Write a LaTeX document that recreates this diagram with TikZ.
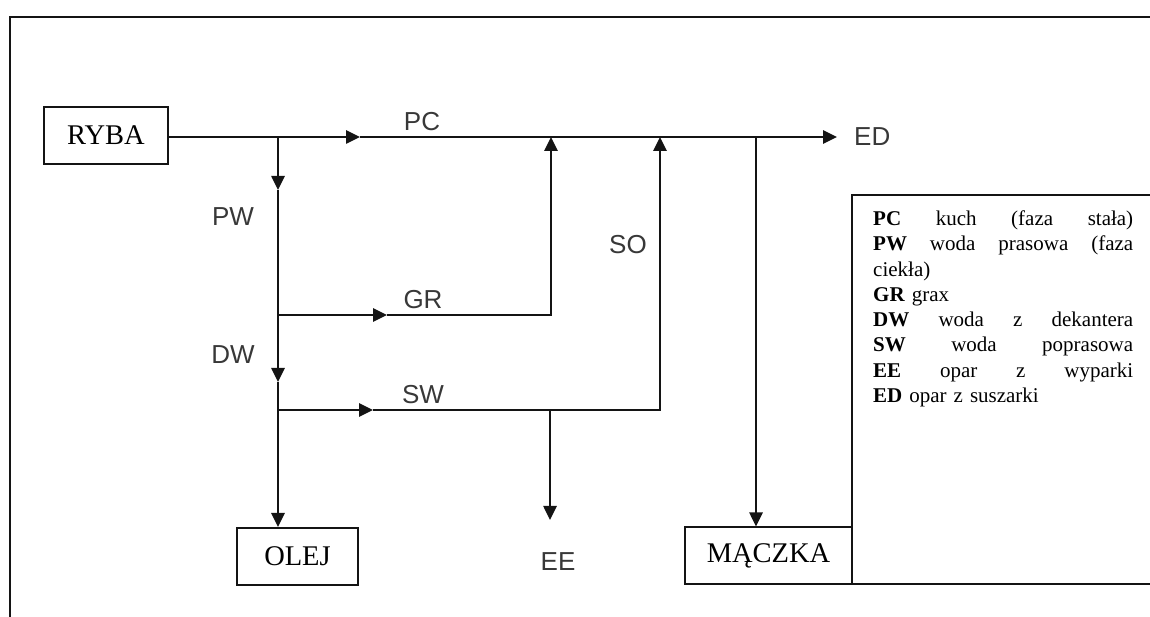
\documentclass[tikz,border=0pt]{standalone}
\usepackage{fontspec}
\setmainfont{Liberation Serif}
\setsansfont{Liberation Sans}
\usetikzlibrary{arrows.meta,positioning,calc}
\definecolor{Ink}{HTML}{141414}
\definecolor{Label}{HTML}{383838}
\newcommand{\keyline}[1]{\makebox[260pt][l]{#1}}

\begin{document}
\begin{tikzpicture}[x=1pt,y=1pt,
  flow/.style={draw=Ink,line width=2.6pt},
  tip/.style={flow,-{Triangle[length=14pt,width=13pt]}},
  unit/.style={draw=Ink,line width=2pt,minimum height=57pt,inner sep=0pt,font=\fontsize{28.5}{32}\selectfont},
  lbl/.style={text=Label,inner sep=0pt,font=\sffamily\fontsize{26}{30}\selectfont},
  key/.style={inner sep=0pt,text width=260pt,align=left,font=\fontsize{21}{25.3}\selectfont}]
\useasboundingbox (0,0) rectangle (1150,617);
% page frame
\draw[Ink,line width=1.6pt] (1152,600) -- (10,600) -- (10,-2);
% units
\node[unit,minimum width=124pt] (ryba) at (106,481.5) {RYBA};
\node[unit,minimum width=121pt] (olej) at (297.5,60.5) {OLEJ};
\node[unit,minimum width=167pt] (maczka) at (768.5,61) {MĄCZKA};
% junctions and arrow points
\coordinate (jpw) at (278,480);
\coordinate (pctip) at (360,480);
\coordinate (grup) at (551,480);
\coordinate (soup) at (660,480);
\coordinate (mout) at (756,480);
\coordinate (edtip) at (837,480);
\coordinate (pwtip) at (278,427);
\coordinate (jgr) at (278,302);
\coordinate (grtip) at (387,302);
\coordinate (grbend) at (551,302);
\coordinate (dwtip) at (278,235);
\coordinate (jsw) at (278,207);
\coordinate (swtip) at (373,207);
\coordinate (swbend) at (660,207);
\coordinate (eeout) at (550,207);
\coordinate (eetip) at (550,97);
% flows
\draw[tip] (ryba.east |- pctip) -- (pctip);
\draw[tip] (pctip) -- (edtip);
\draw[tip] (jpw) -- (pwtip);
\draw[tip] (pwtip) -- (dwtip);
\draw[tip] (dwtip) -- (jpw |- olej.north);
\draw[tip] (jgr) -- (grtip);
\draw[tip] (grtip) -- (grbend) -- (grup);
\draw[tip] (jsw) -- (swtip);
\draw[tip] (swtip) -- (swbend) -- (soup);
\draw[tip] (eeout) -- (eetip);
\draw[tip] (mout) -- (mout |- maczka.north);
% stream labels
\node[lbl,right=17pt of edtip] (ed) {ED};
\node[lbl] (pc) at (422,495) {PC};
\node[lbl] (pw) at (233,400) {PW};
\node[lbl] (dw) at (233,262) {DW};
\node[lbl] (gr) at (423,317) {GR};
\node[lbl] (sw) at (423,222) {SW};
\node[lbl] (so) at (628,372) {SO};
\node[lbl] (ee) at (558,55) {EE};
% legend
\draw[Ink,line width=2pt] (1152,422) -- (852,422) -- (852,33) -- (1152,33);
\node[key,anchor=north west] (legend) at (873,406.5) {%
\keyline{\textbf{PC}\hfill kuch\hfill (faza\hfill stała)}\\
\keyline{\textbf{PW}\hfill woda\hfill prasowa\hfill (faza}\\
ciekła)\\
\textbf{GR} grax\\
\keyline{\textbf{DW}\hfill woda\hfill z\hfill dekantera}\\
\keyline{\textbf{SW}\hfill woda\hfill poprasowa}\\
\keyline{\textbf{EE}\hfill opar\hfill z\hfill wyparki}\\
\textbf{ED} opar z suszarki};
\end{tikzpicture}
\end{document}
